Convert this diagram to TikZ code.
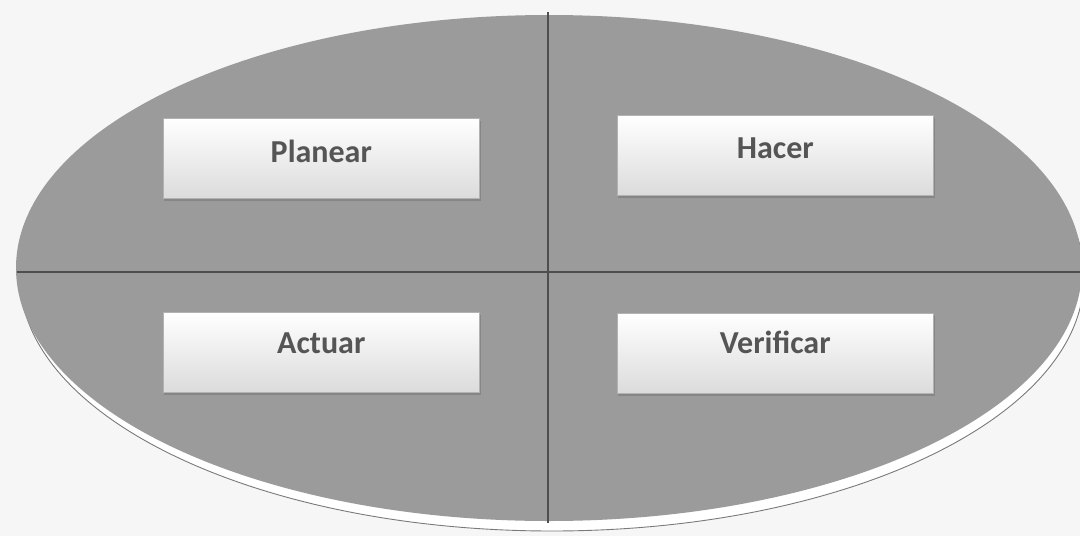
\documentclass[tikz,border=0pt]{standalone}
\usepackage{fontspec}
\setmainfont{Carlito}
\definecolor{bgc}{HTML}{F6F6F6}
\definecolor{ellc}{HTML}{9B9B9B}
\definecolor{linec}{HTML}{4E4E4E}
\definecolor{txtc}{HTML}{555555}
\definecolor{shc}{HTML}{7A7A7A}
\tikzset{
  stagebox/.style={draw=gray!60, line width=0.6pt, top color=white, bottom color=gray!28,
    minimum width=316pt, minimum height=80pt, inner sep=0pt, anchor=north west},
  stagetext/.style={text=txtc, font=\fontsize{32}{38}\selectfont\bfseries, anchor=base, inner sep=0pt},
  divider/.style={draw=linec, line width=1.6pt}
}
\begin{document}
\begin{tikzpicture}[x=1pt,y=-1pt]
\clip (0,0) rectangle (1080,536);
\fill[bgc] (0,0) rectangle (1080,536);
% reflection / shadow rim
\draw[fill=white, draw=shc, line width=0.9pt] (552,277) ellipse [x radius=532pt, y radius=254pt];
% main ellipse
\fill[ellc] (549,268) ellipse [x radius=533pt, y radius=253pt];
% dividers
\coordinate (vt) at (548,12);
\coordinate (vb) at (548,523);
\coordinate (hl) at (17,272);
\coordinate (hr) at (1080,272);
\draw[divider] (vt) -- (vb);
\draw[divider] (hl) -- (hr);
% box shadows
\foreach \x/\y in {163/118, 617/115, 163/312, 617/313}{
  \fill[gray!75!black, opacity=0.35] (\x+1,\y+3) rectangle (\x+318,\y+83);
}
% boxes
\node[stagebox] (planear) at (163,118) {};
\node[stagebox] (hacer) at (617,115) {};
\node[stagebox] (actuar) at (163,312) {};
\node[stagebox] (verificar) at (617,313) {};
\node[stagetext] (tplanear) at ([yshift=-4pt]planear.center) {Planear};
\node[stagetext] (thacer) at ([yshift=-3pt]hacer.center) {Hacer};
\node[stagetext] (tactuar) at ([yshift=-1pt]actuar.center) {Actuar};
\node[stagetext] (tverificar) at ([yshift=0pt]verificar.center) {Verificar};
\end{tikzpicture}
\end{document}
